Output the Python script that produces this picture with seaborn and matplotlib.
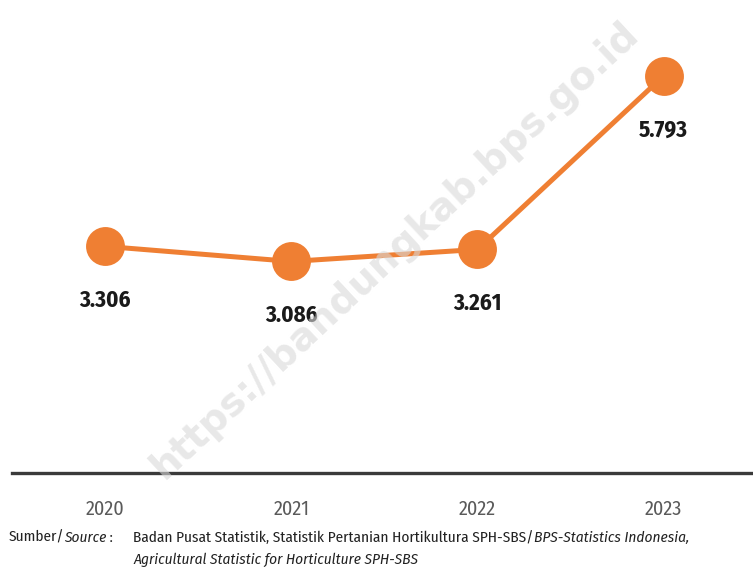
import pandas as pd
import seaborn as sns
import matplotlib
matplotlib.use('Agg')
import matplotlib.pyplot as plt

# Data
years = ["2020", "2021", "2022", "2023"]
values = [3.306, 3.086, 3.261, 5.793]
value_labels = ["3.306", "3.086", "3.261", "5.793"]

ORANGE = '#EF7F33'
FONT = ['Fira Sans Condensed', 'DejaVu Sans']


def main():
    df = pd.DataFrame({'year': years, 'value': values})

    sns.set_style('white')
    plt.rcParams['font.family'] = FONT

    fig = plt.figure(figsize=(7.53, 5.74), dpi=100)
    ax = fig.add_axes([0.016, 0.176, 0.984, 0.824])

    sns.lineplot(data=df, x='year', y='value', ax=ax, color=ORANGE,
                 linewidth=3.6, marker='o', markersize=28,
                 markeredgewidth=0, sort=False)

    # value labels below each point
    for i, (v, lab) in enumerate(zip(values, value_labels)):
        ax.annotate(lab, xy=(i, v), xytext=(0, -39), textcoords='offset points',
                    ha='center', va='center', fontsize=16.5, fontweight='bold',
                    color='#1a1a1a')

    ax.set_xlim(-0.5, 3.48)
    ax.set_ylim(0, 6.9)
    ax.set_xlabel('')
    ax.set_ylabel('')
    ax.set_yticks([])
    for s in ['top', 'right', 'left']:
        ax.spines[s].set_visible(False)
    ax.spines['bottom'].set_color('#3a3a3a')
    ax.spines['bottom'].set_linewidth(2.4)
    ax.tick_params(axis='x', length=0, pad=19, labelsize=14.5, labelcolor='#5a5a5a')

    # watermark
    fig.text(0.525, 0.565, 'https://bandungkab.bps.go.id', rotation=43,
             ha='center', va='center', fontsize=28, fontweight='bold',
             color='#d9d9d9', alpha=0.6, family=['DejaVu Sans'], zorder=0)

    # source note
    kw = dict(fontsize=11, color='#222222', va='bottom')
    t1 = fig.text(0.011, 0.051, 'Sumber/', **kw)
    t2 = ax.annotate('Source', xy=(1, 0), xycoords=t1, style='italic', **kw)
    ax.annotate(' :', xy=(1, 0), xycoords=t2, **kw)
    t4 = fig.text(0.177, 0.051,
                  'Badan Pusat Statistik, Statistik Pertanian Hortikultura SPH-SBS/', **kw)
    ax.annotate('BPS-Statistics Indonesia,', xy=(1, 0), xycoords=t4,
                style='italic', **kw)
    fig.text(0.177, 0.013, 'Agricultural Statistic for Horticulture SPH-SBS',
             style='italic', **kw)

    fig.savefig('out.png', dpi=100)


if __name__ == '__main__':
    main()
